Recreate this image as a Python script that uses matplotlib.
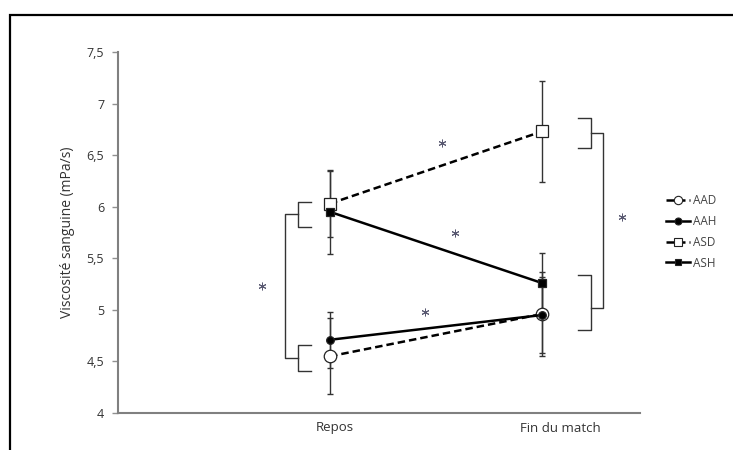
import matplotlib
matplotlib.use("Agg")
import matplotlib.pyplot as plt
from matplotlib.patches import Rectangle
from matplotlib.lines import Line2D

plt.rcParams['font.family'] = ['Open Sans', 'DejaVu Sans']

categories = ["Repos", "Fin du match"]
series = ["AAD", "AAH", "ASD", "ASH"]
values = {
    "AAD": [4.55, 4.96],
    "AAH": [4.71, 4.95],
    "ASD": [6.03, 6.73],
    "ASH": [5.95, 5.26],
}
errors = {
    "AAD": [0.37, 0.41],
    "AAH": [0.27, 0.37],
    "ASD": [0.32, 0.49],
    "ASH": [0.41, 0.29],
}
yticks = [4, 4.5, 5, 5.5, 6, 6.5, 7, 7.5]
ytick_labels = ["4", "4,5", "5", "5,5", "6", "6,5", "7", "7,5"]

styles = {
    "AAD": dict(ls=(0, (3, 1.6)), marker='o', mfc='white', ms=9, zorder=3),
    "AAH": dict(ls='-', marker='o', mfc='black', ms=5.5, zorder=4),
    "ASD": dict(ls=(0, (3, 1.6)), marker='s', mfc='white', ms=8, zorder=3),
    "ASH": dict(ls='-', marker='s', mfc='black', ms=5.5, zorder=4),
}

W, H = 733, 450
fig = plt.figure(figsize=(W/100, H/100), dpi=100)
ax = fig.add_axes([118/W, 1-413/H, (640-118)/W, (413-52)/H])

x = [0, 1]
for s in series:
    st = styles[s]
    ax.errorbar(x, values[s], yerr=errors[s], fmt='none', ecolor='#333333',
                elinewidth=1.0, capsize=2.5, capthick=1.0, zorder=2)
    ax.plot(x, values[s], color='black', lw=1.8, ls=st['ls'], marker=st['marker'],
            mfc=st['mfc'], mec='#222222', mew=0.9, ms=st['ms'], zorder=st['zorder'],
            label=s)

ax.set_xlim(-1.0, 1.462)
ax.set_ylim(4, 7.5)
ax.set_yticks(yticks)
ax.set_yticklabels(ytick_labels, fontsize=9, color='#333333')
ax.set_xticks([])
for sp in ['top', 'right']:
    ax.spines[sp].set_visible(False)
for sp in ['left', 'bottom']:
    ax.spines[sp].set_color('#808080')
    ax.spines[sp].set_linewidth(1.5)
ax.tick_params(axis='y', length=4, width=1, color='#909090', pad=6)
ax.set_ylabel("Viscosité sanguine (mPa/s)", fontsize=10, color='#333333', labelpad=8)

# category labels
cat_px = [335, 560]
for c, px in zip(categories, cat_px):
    fig.text(px/W, 1-428/H, c, ha='center', va='center', fontsize=9.5, color='#333333')

# brackets
bk = dict(color='#333333', lw=1.0, zorder=2)
def bracket(xv, xa, y0, y1):
    ax.plot([xa, xv, xv, xa], [y1, y1, y0, y0], **bk)

# left side
bracket(-0.151, -0.090, 5.80, 6.05)
bracket(-0.151, -0.090, 4.41, 4.66)
ax.plot([-0.151, -0.212, -0.212, -0.151], [5.925, 5.925, 4.535, 4.535], **bk)
# right side
bracket(1.230, 1.170, 6.57, 6.86)
bracket(1.230, 1.170, 4.80, 5.34)
ax.plot([1.230, 1.289, 1.289, 1.230], [6.715, 6.715, 5.02, 5.02], **bk)

# significance stars
star_x = [0.528, 0.590, 0.448, -0.321, 1.377]
star_y = [6.615, 5.742, 4.982, 5.231, 5.90]
ax.plot(star_x, star_y, ls='none', marker=(6, 2, 0), ms=5.5, mew=0.7,
        color='#5a5a72', zorder=5, clip_on=False)

# legend
handles = [Line2D([0], [0], color='black', lw=1.8,
                  ls=styles[s]['ls'], marker=styles[s]['marker'], mfc=styles[s]['mfc'],
                  mec='#222222', mew=0.8, ms=6 if styles[s]['mfc'] == 'white' else 5)
           for s in series]
fig.legend(handles, series, loc='center left', bbox_to_anchor=(660/W, 1-232/H),
           frameon=False, fontsize=8.5, handlelength=2.0, handletextpad=0.3,
           labelspacing=0.65, borderpad=0, labelcolor='#444444')

# outer frame
fig.add_artist(Rectangle((10/W, -0.1), 1.2, 1 - 15/H + 0.1, transform=fig.transFigure,
                         fill=False, ec='black', lw=1.6, clip_on=False))

fig.savefig("out.png", dpi=100)
